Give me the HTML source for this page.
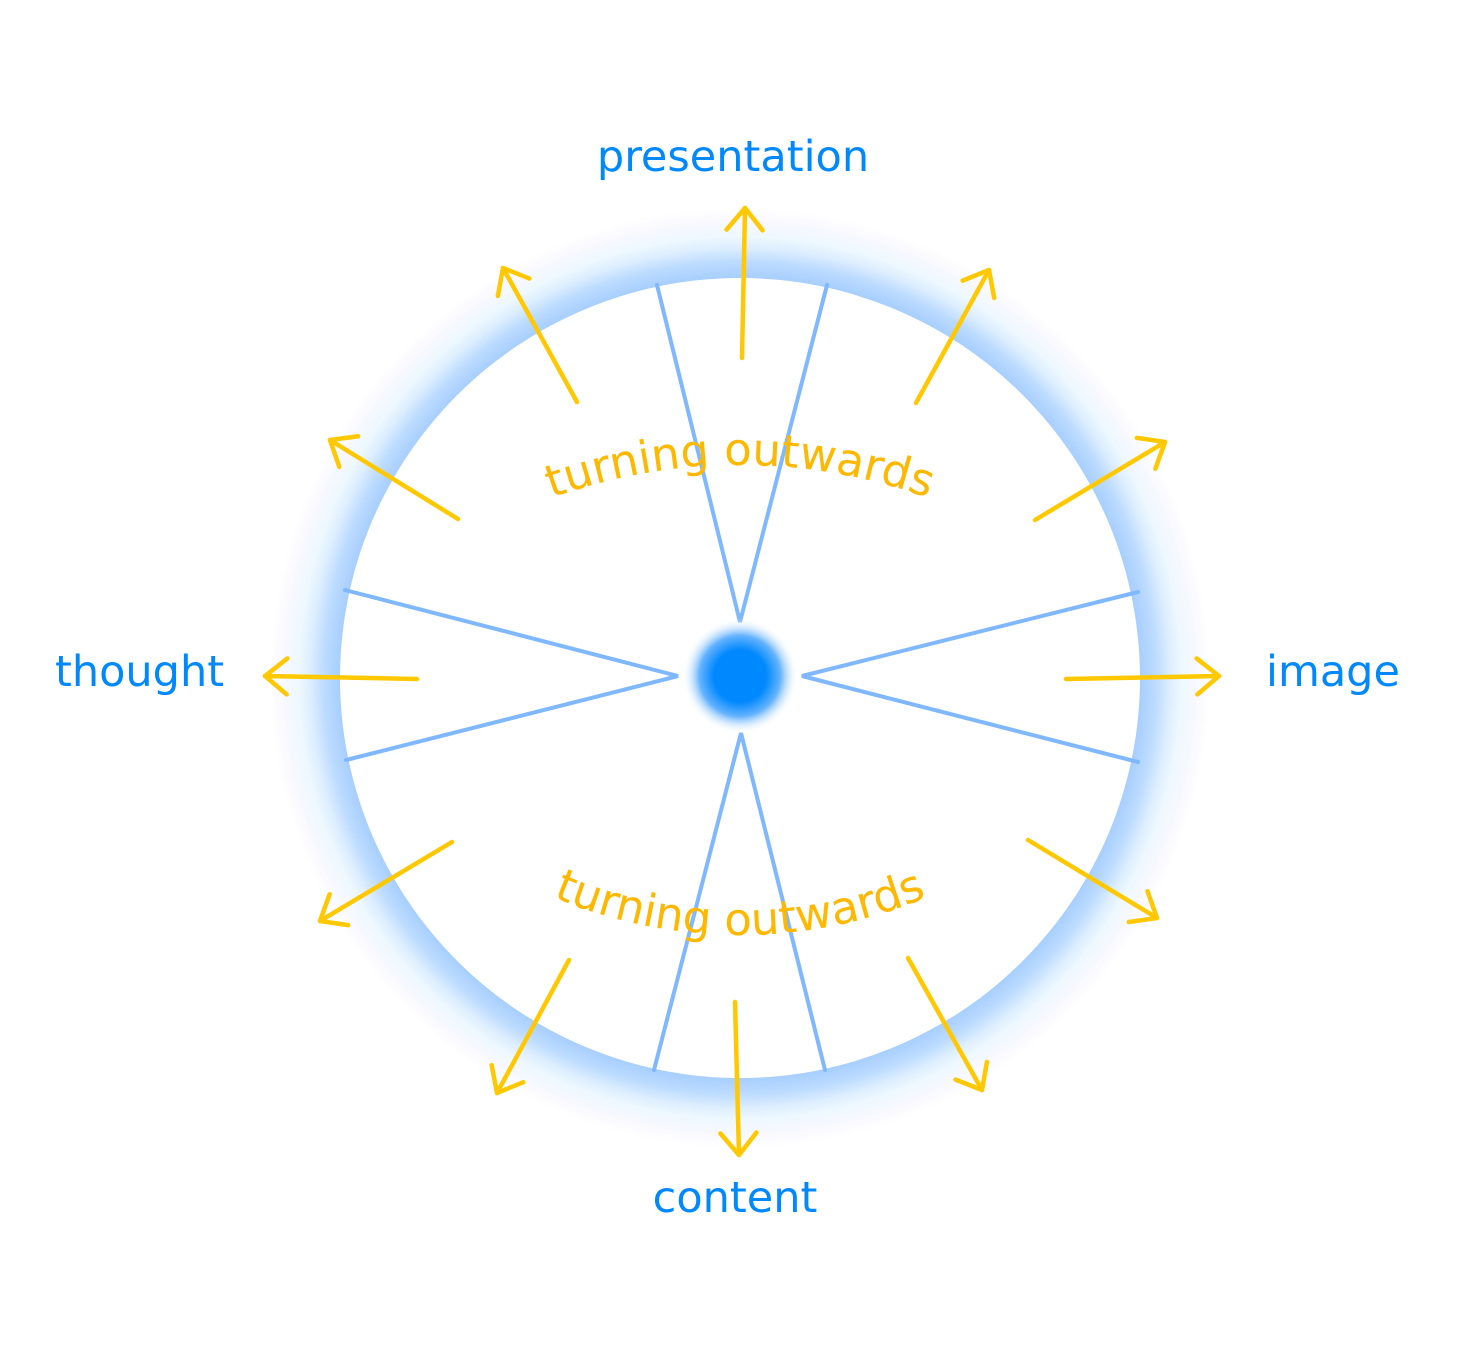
<!DOCTYPE html>
<html><head><meta charset="utf-8"><style>
html,body{margin:0;padding:0;background:#fff;}
svg{display:block;}
</style></head><body>
<svg width="1472" height="1368" viewBox="0 0 1472 1368" xmlns="http://www.w3.org/2000/svg">
<defs>
<radialGradient id="ring" cx="740" cy="678" r="470" gradientUnits="userSpaceOnUse">
<stop offset="0.85" stop-color="#a6ceff"/>
<stop offset="0.885" stop-color="#bcdbff"/>
<stop offset="0.915" stop-color="#ddeeff"/>
<stop offset="0.94" stop-color="#eef8ff"/>
<stop offset="0.97" stop-color="#f8f8ff"/>
<stop offset="1" stop-color="#ffffff"/>
</radialGradient>
<radialGradient id="dot" cx="740" cy="676" r="58" gradientUnits="userSpaceOnUse">
<stop offset="0" stop-color="#0088ff"/>
<stop offset="0.45" stop-color="#0088ff"/>
<stop offset="0.7" stop-color="#66b3ff"/>
<stop offset="1" stop-color="#ffffff" stop-opacity="0"/>
</radialGradient>
<marker id="ah" markerUnits="userSpaceOnUse" markerWidth="50" markerHeight="50" refX="25" refY="25" orient="auto">
<path d="M3,7 L25,25 L3,43" fill="none" stroke="#ffc800" stroke-width="4.5" stroke-linecap="round" stroke-linejoin="round"/>
</marker>
<path id="tp2" d="M 185 1020 A 555 555 0 0 1 1295 1020" fill="none"/>
<path id="bp2" d="M 260 455 A 480 480 0 0 0 1220 455" fill="none"/>
</defs>
<circle cx="740" cy="678" r="470" fill="url(#ring)"/>
<circle cx="740" cy="678" r="400" fill="#fff"/>
<g stroke="#7fb8ff" stroke-width="4" fill="none" stroke-linecap="round" stroke-linejoin="miter">
<polyline points="657,285 740,622 827,285"/>
<polyline points="345,590 678,676 346,760"/>
<polyline points="1138,592 802,676 1138,762"/>
<polyline points="654,1070 741,733 825,1070"/>
</g>
<circle cx="740" cy="676" r="58" fill="url(#dot)"/>
<g stroke="#ffc800" stroke-width="4.5" stroke-linecap="round" marker-end="url(#ah)">
<line x1="742" y1="358" x2="745" y2="208"/>
<line x1="577" y1="402" x2="503" y2="268"/>
<line x1="458" y1="519" x2="330" y2="440"/>
<line x1="417" y1="679" x2="265" y2="676"/>
<line x1="452" y1="842" x2="320" y2="921"/>
<line x1="569" y1="960" x2="497" y2="1093"/>
<line x1="735" y1="1002" x2="739" y2="1155"/>
<line x1="908" y1="958" x2="982" y2="1090"/>
<line x1="1028" y1="840" x2="1157" y2="918"/>
<line x1="1066" y1="679" x2="1219" y2="676"/>
<line x1="1035" y1="520" x2="1165" y2="442"/>
<line x1="916" y1="403" x2="989" y2="270"/>
</g>
<g font-family="'DejaVu Sans','Liberation Sans',sans-serif" font-size="45" fill="#ffb800">
<text><textPath href="#tp2" startOffset="50%" text-anchor="middle">turning outwards</textPath></text>
<text><textPath href="#bp2" startOffset="50%" text-anchor="middle">turning outwards</textPath></text>
</g>
<g font-family="'DejaVu Sans','Liberation Sans',sans-serif" font-size="43" fill="#0088ff">
<text x="733" y="171" text-anchor="middle">presentation</text>
<text x="55" y="686">thought</text>
<text x="1266" y="686">image</text>
<text x="735" y="1212" text-anchor="middle">content</text>
</g>
</svg>
</body></html>
